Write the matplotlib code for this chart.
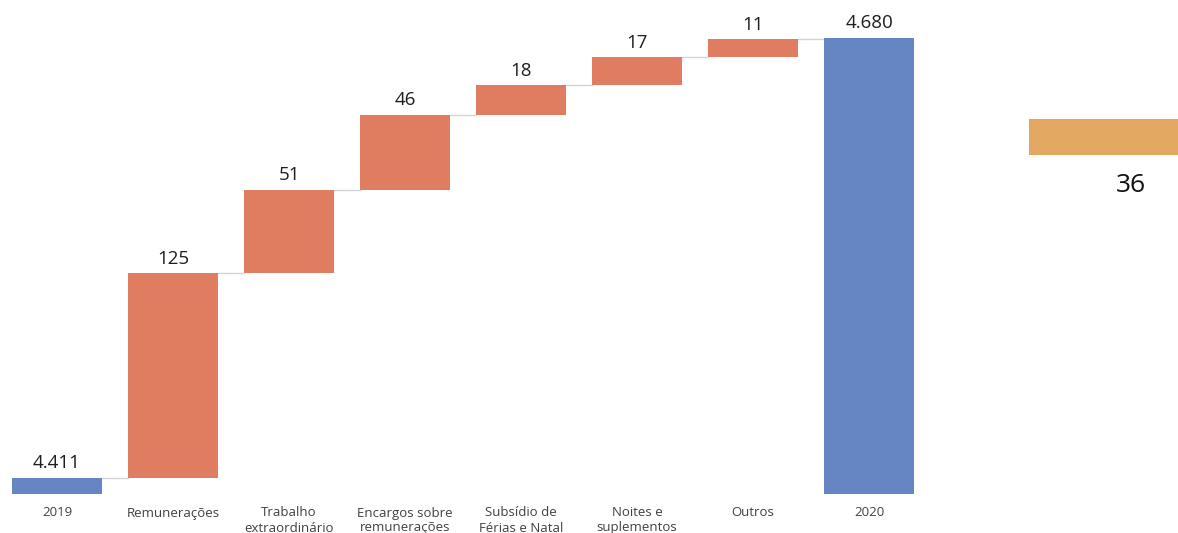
import matplotlib.pyplot as plt
import numpy as np

# waterfall data (milhares)
categories = ['2019', 'Remunerações', 'Trabalho\nextraordinário', 'Encargos sobre\nremunerações',
              'Subsídio de\nFérias e Natal', 'Noites e\nsuplementos', 'Outros', '2020']
start_value = 4411
increments = [125, 51, 46, 18, 17, 11]
end_value = 4680
value_labels = ['4.411', '125', '51', '46', '18', '17', '11', '4.680']
axis_floor = 4401

side_value = 36

blue = '#6686C3'
coral = '#E07D61'
sand = '#E2A862'

plt.rcParams['font.family'] = ['Open Sans', 'DejaVu Sans']

fig = plt.figure(figsize=(11.78, 5.33), dpi=100)

# main waterfall axes
ax = fig.add_axes([0, 39 / 533, 1, 494 / 533])
px_per_unit = 1.635
ax.set_ylim(axis_floor, axis_floor + 494 / px_per_unit)
ax.set_xlim(-57 / 116, (1178 - 57) / 116)

n = len(categories)
x = np.arange(n)
width = 0.776

cum = np.concatenate([[start_value], start_value + np.cumsum(increments)])
bottoms = [axis_floor] + list(cum[:-1]) + [axis_floor]
tops = [start_value] + list(cum[1:]) + [end_value]
heights = [t - b for t, b in zip(tops, bottoms)]
colors = [blue] + [coral] * len(increments) + [blue]

ax.bar(x, heights, bottom=bottoms, width=width, color=colors, zorder=2)

# connectors
for i in range(n - 1):
    level = tops[i]
    ax.plot([x[i] + width / 2, x[i + 1] - width / 2], [level, level],
            color='#d4d4d4', lw=1, zorder=1)

for xi, t, lab in zip(x, tops, value_labels):
    ax.annotate(lab, (xi, t), xytext=(0, 4), textcoords='offset points',
                ha='center', va='bottom', fontsize=13.5, color='#1e1e1e')

ax.set_xticks(x)
ax.set_xticklabels(categories, fontsize=9.5, color='#404040', linespacing=1.2)
ax.tick_params(axis='x', length=0, pad=9)
ax.set_yticks([])
for s in ax.spines.values():
    s.set_visible(False)
ax.patch.set_alpha(0)

# side element
ax2 = fig.add_axes([1029 / 1178, (533 - 200) / 533, (1178 - 1029) / 1178, 100 / 533])
ax2.set_xlim(0, side_value)
ax2.set_ylim(0, 100)
ax2.barh(63, side_value, height=36, left=0, color=sand)
ax2.text(0.685, 0.15, str(side_value), transform=ax2.transAxes, ha='center', va='center',
         fontsize=19, color='#111111')
ax2.axis('off')

fig.savefig('out.png', dpi=100)
